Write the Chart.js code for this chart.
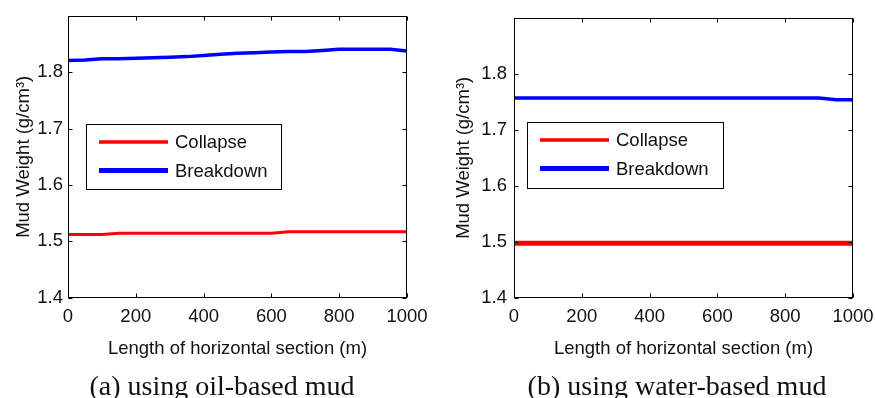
<!DOCTYPE html>
<html lang="en">
<head>
<meta charset="UTF-8">
<title>Mud Weight vs Length of Horizontal Section</title>
<script src="https://cdn.jsdelivr.net/npm/chart.js"></script>
<style>
    body { margin: 0; background: #fff; }
    .wrap { position: relative; width: 875px; height: 398px; overflow: hidden; }
    #oilChart { position: absolute; left: 0; top: 0; }
    #waterChart { position: absolute; left: 440px; top: 0; }
    .caption {
        position: absolute;
        top: 372px;
        font-family: 'Liberation Serif', 'Times New Roman', serif;
        font-size: 28px;
        line-height: 28px;
        color: #111;
        white-space: nowrap;
        transform: translateX(-50%);
    }
</style>
</head>
<body>
<div class="wrap">
    <canvas id="oilChart" width="440" height="398"></canvas>
    <canvas id="waterChart" width="435" height="398"></canvas>
    <div class="caption" style="left:222px">(a) using oil-based mud</div>
    <div class="caption" style="left:677px">(b) using water-based mud</div>
</div>

<script>
    // horizontal section length (m)
    const lengths = [0, 50, 100, 150, 200, 250, 300, 350, 400, 450, 500, 550, 600, 650, 700, 750, 800, 850, 900, 950, 1000];

    // (a) oil-based mud
    const oilCollapse = [1.512, 1.512, 1.512, 1.514, 1.514, 1.514, 1.514, 1.514, 1.514, 1.514, 1.514, 1.514, 1.514,
                         1.517, 1.517, 1.517, 1.517, 1.517, 1.517, 1.517, 1.517];
    const oilBreakdown = [1.821, 1.822, 1.824, 1.824, 1.825, 1.826, 1.827, 1.828, 1.830, 1.832, 1.834, 1.835, 1.836,
                          1.837, 1.837, 1.839, 1.841, 1.841, 1.841, 1.841, 1.838];

    // (b) water-based mud
    const waterCollapse = [1.497, 1.497, 1.497, 1.497, 1.497, 1.497, 1.497, 1.497, 1.497, 1.497, 1.497, 1.497, 1.497,
                           1.497, 1.497, 1.497, 1.497, 1.497, 1.497, 1.497, 1.497];
    const waterBreakdown = [1.757, 1.757, 1.757, 1.757, 1.757, 1.757, 1.757, 1.757, 1.757, 1.757, 1.757, 1.757, 1.757,
                            1.757, 1.757, 1.757, 1.757, 1.757, 1.757, 1.754, 1.754];

    const xTicks = [0, 200, 400, 600, 800, 1000];
    const yTicks = [1.4, 1.5, 1.6, 1.7, 1.8];
    const seriesNames = ['Collapse', 'Breakdown'];

    Chart.defaults.font.family = "'Liberation Sans', Arial, sans-serif";
    Chart.defaults.font.size = 18.5;
    Chart.defaults.color = '#111';

    const toPoints = (ys) => lengths.map((x, i) => ({ x: x, y: ys[i] }));

    // MATLAB style box with inward ticks, plus the legend box inside the axes
    const framePlugin = {
        id: 'frame',
        afterDatasetsDraw(chart, args, opts) {
            const { ctx, chartArea: a, scales } = chart;
            const L = Math.round(a.left) + 0.5, R = Math.round(a.right) - 0.5;
            const T = Math.round(a.top) + 0.5, B = Math.round(a.bottom) - 0.5;
            ctx.save();
            ctx.strokeStyle = '#000';
            ctx.lineWidth = 1;
            ctx.strokeRect(L, T, R - L, B - T);
            ctx.beginPath();
            xTicks.forEach(v => {
                const px = Math.round(scales.x.getPixelForValue(v)) + 0.5;
                ctx.moveTo(px, B); ctx.lineTo(px, B - 4);
                ctx.moveTo(px, T); ctx.lineTo(px, T + 4);
            });
            yTicks.forEach(v => {
                const py = Math.round(scales.y.getPixelForValue(v)) + 0.5;
                ctx.moveTo(L, py); ctx.lineTo(L + 4, py);
                ctx.moveTo(R, py); ctx.lineTo(R - 4, py);
            });
            ctx.stroke();

            // legend
            const [bx, by, bw, bh] = opts.box;
            ctx.fillStyle = '#fff';
            ctx.fillRect(bx, by, bw, bh);
            ctx.strokeRect(bx + 0.5, by + 0.5, bw, bh);
            ctx.font = "18.5px 'Liberation Sans', Arial, sans-serif";
            ctx.textBaseline = 'middle';
            ctx.textAlign = 'left';
            chart.data.datasets.forEach((ds, i) => {
                const ry = by + 18 + i * 28.5;
                ctx.beginPath();
                ctx.strokeStyle = ds.borderColor;
                ctx.lineWidth = opts.lineWidths[i];
                ctx.moveTo(bx + 13, ry);
                ctx.lineTo(bx + 82, ry);
                ctx.stroke();
                ctx.fillStyle = '#111';
                ctx.fillText(ds.label, bx + 89, ry + 1);
            });
            ctx.restore();
        }
    };

    function makeChart(id, collapse, breakdown, o) {
        return new Chart(document.getElementById(id), {
            type: 'line',
            data: {
                datasets: [
                    { label: seriesNames[0], data: toPoints(collapse), borderColor: '#ff0000',
                      borderWidth: o.collapseWidth, pointRadius: 0, tension: 0, fill: false },
                    { label: seriesNames[1], data: toPoints(breakdown), borderColor: '#0000ff',
                      borderWidth: o.breakdownWidth, pointRadius: 0, tension: 0, fill: false }
                ]
            },
            options: {
                responsive: false,
                animation: false,
                devicePixelRatio: 1,
                layout: { padding: { left: 0, top: 14, right: o.padRight, bottom: 0 } },
                plugins: {
                    legend: { display: false },
                    tooltip: { enabled: false },
                    frame: { box: o.box, lineWidths: o.legendWidths }
                },
                scales: {
                    x: {
                        type: 'linear',
                        min: 0,
                        max: 1000,
                        afterBuildTicks: (s) => { s.ticks = xTicks.map(v => ({ value: v })); },
                        afterFit: (s) => { s.height = 100.5; s.paddingLeft = 0; s.paddingRight = 0; },
                        grid: { display: false, drawTicks: false },
                        border: { display: false },
                        ticks: { padding: 8, maxRotation: 0, autoSkip: false, callback: (v) => String(v) },
                        title: { display: true, text: 'Length of horizontal section (m)',
                                 padding: { top: 0, bottom: 38 } }
                    },
                    y: {
                        type: 'linear',
                        min: 1.4,
                        max: 1.9,
                        afterBuildTicks: (s) => { s.ticks = yTicks.map(v => ({ value: v })); },
                        afterFit: (s) => { s.width = o.yWidth; },
                        grid: { display: false, drawTicks: false },
                        border: { display: false },
                        ticks: { padding: o.yPad, callback: (v) => v.toFixed(1) },
                        title: { display: true, text: 'Mud Weight (g/cm³)', padding: { top: 13, bottom: 0 } }
                    }
                }
            },
            plugins: [framePlugin]
        });
    }

    makeChart('oilChart', oilCollapse, oilBreakdown, {
        collapseWidth: 3, breakdownWidth: 3.5, legendWidths: [3.5, 5],
        padRight: 33, yWidth: 68, yPad: 5, box: [86, 124, 195, 65]
    });

    makeChart('waterChart', waterCollapse, waterBreakdown, {
        collapseWidth: 5, breakdownWidth: 3.5, legendWidths: [3.5, 5],
        padRight: 22, yWidth: 74, yPad: 7, box: [87, 122, 196, 66]
    });
</script>
</body>
</html>
